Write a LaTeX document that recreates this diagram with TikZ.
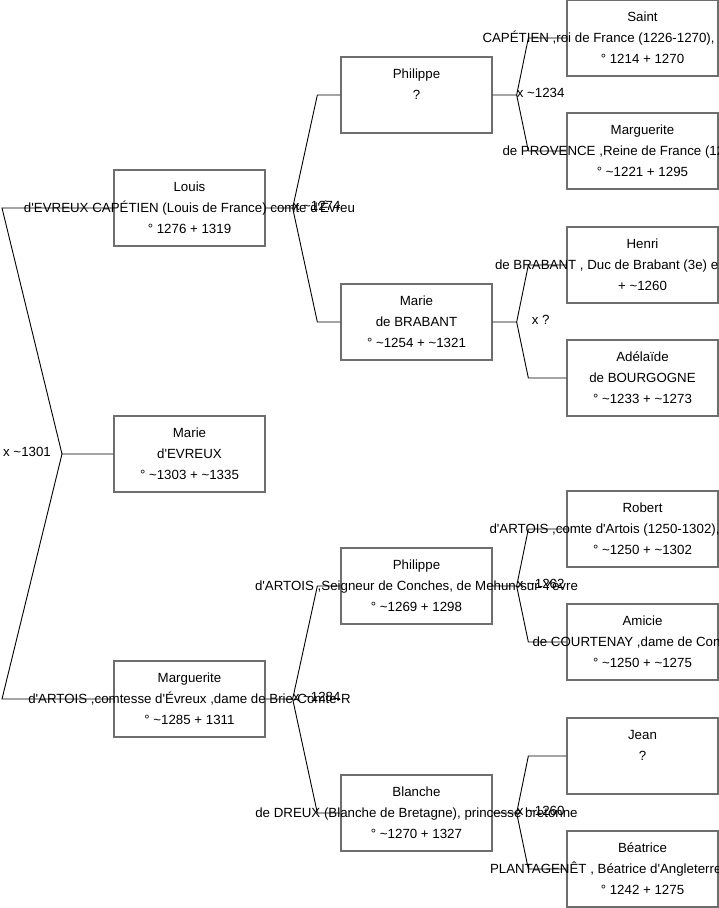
\documentclass[tikz,border=0pt]{standalone}
\usepackage{fontspec}
\setmainfont{Liberation Sans}
\usepackage{xcolor}
\usetikzlibrary{calc}
\definecolor{ink}{HTML}{000000}
\definecolor{frame}{HTML}{6E6E6E}
\newcommand{\circa}{\textasciitilde}
\newcommand{\ap}{\textquotesingle}
\newcommand{\tri}[3]{\strut#1\\#2\\#3\strut}
\newcommand{\wide}[1]{\makebox[0pt]{#1}}
\newcommand{\cutoff}[2]{\makebox[0pt][l]{\hspace*{#1pt}#2}}
\tikzset{
  person/.style={draw=frame,line width=1.3pt,minimum width=151pt,
                 minimum height=76pt,inner sep=0pt,align=center,
                 font=\fontsize{13.3}{21}\selectfont,text=ink},
  link/.style={draw=ink,line width=0.9pt},
  wedding/.style={font=\fontsize{13.3}{15}\selectfont,text=ink,inner sep=0pt}
}

\begin{document}
\begin{tikzpicture}[x=1pt,y=-1pt]
    \path[use as bounding box,clip] (0,0) rectangle (719,908);

    % first column
    \node[person] (louis) at (189.5,208)
      {\tri{Louis}{\wide{d\ap EVREUX CAPÉTIEN (Louis de France) comte d\ap Évreu}}{° 1276 + 1319}};
    \node[person] (marieE) at (189.5,454)
      {\tri{Marie}{d\ap EVREUX}{° \circa1303 + \circa1335}};
    \node[person] (marg) at (189.5,699)
      {\tri{Marguerite}{\wide{d\ap ARTOIS ,comtesse d\ap Évreux ,dame de Brie-Comte-R}}{° \circa1285 + 1311}};

    % second column
    \node[person] (philC) at (416.5,95) {\tri{Philippe}{?}{}};
    \node[person] (marieB) at (416.5,322)
      {\tri{Marie}{de BRABANT}{° \circa1254 + \circa1321}};
    \node[person] (philA) at (416.5,586)
      {\tri{Philippe}{\wide{d\ap ARTOIS ,Seigneur de Conches, de Mehun-sur-Yèvre}}{° \circa1269 + 1298}};
    \node[person] (blanche) at (416.5,813)
      {\tri{Blanche}{\wide{de DREUX (Blanche de Bretagne), princesse bretonne}}{° \circa1270 + 1327}};

    % third column
    \node[person] (louisIX) at (642.5,38)
      {\tri{Saint}{\cutoff{-160}{CAPÉTIEN ,roi de France (1226-1270),}}{° 1214 + 1270}};
    \node[person] (margP) at (642.5,151)
      {\tri{Marguerite}{\cutoff{-140}{de PROVENCE ,Reine de France (12}}{° \circa1221 + 1295}};
    \node[person] (henri) at (642.5,265)
      {\tri{Henri}{\cutoff{-147.5}{de BRABANT , Duc de Brabant (3e) e}}{+ \circa1260}};
    \node[person] (adela) at (642.5,378)
      {\tri{Adélaïde}{de BOURGOGNE}{° \circa1233 + \circa1273}};
    \node[person] (robert) at (642.5,529)
      {\tri{Robert}{\cutoff{-153}{d\ap ARTOIS ,comte d\ap Artois (1250-1302),}}{° \circa1250 + \circa1302}};
    \node[person] (amicie) at (642.5,642)
      {\tri{Amicie}{\cutoff{-110}{de COURTENAY ,dame de Con}}{° \circa1250 + \circa1275}};
    \node[person] (jean) at (642.5,756) {\tri{Jean}{?}{}};
    \node[person] (beatr) at (642.5,869)
      {\tri{Béatrice}{\cutoff{-152.5}{PLANTAGENÊT , Béatrice d\ap Angleterre}}{° 1242 + 1275}};

    % parents of Marie, fork on the left
    \coordinate (j-marieE) at (62,454);
    \draw[link] (marieE.west) -- (j-marieE) -- ++(-60,-246) -- (louis.west);
    \draw[link] (j-marieE) -- ++(-60,245) -- (marg.west);
    \node[wedding] (w-marieE) at (27,452) {x \circa1301};

    % forks to the right
    \foreach \kid/\dad/\mum/\ja/\jb/\wed in
      {louis/philC/marieB/27/23/{x \circa1274},
       marg/philA/blanche/27/23/{x \circa1284},
       philC/louisIX/margP/24/38/{x \circa1234},
       marieB/henri/adela/24/38/{x ?},
       philA/robert/amicie/24/38/{x \circa1262},
       blanche/jean/beatr/24/38/{x \circa1260}}{
      \draw[link] (\kid.east) -- ++(\ja,0) coordinate (j-\kid)
        -- ([xshift=-\jb]\dad.west) -- (\dad.west);
      \draw[link] (j-\kid) -- ([xshift=-\jb]\mum.west) -- (\mum.west);
      \node[wedding] (w-\kid) at ([xshift=24,yshift=2]j-\kid) {\wed};
    }
\end{tikzpicture}
\end{document}
